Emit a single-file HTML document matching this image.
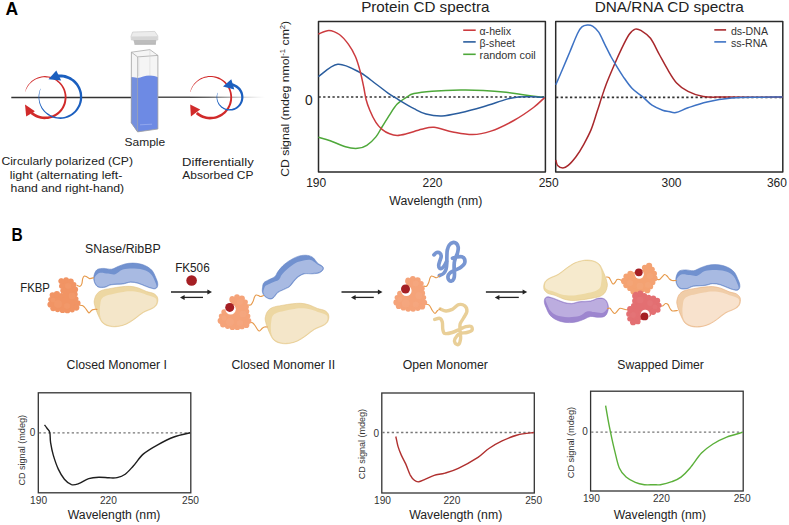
<!DOCTYPE html>
<html><head><meta charset="utf-8"><title>CD spectra figure</title>
<style>
html,body{margin:0;padding:0;background:#fff;}
body{width:789px;height:525px;overflow:hidden;}
svg{display:block;font-family:"Liberation Sans",sans-serif;}
</style></head>
<body>
<svg width="789" height="525" viewBox="0 0 789 525">
<text x="5.6" y="15.3" font-size="17.5" fill="#000" text-anchor="start" font-weight="700">A</text>
<text x="11.5" y="240.6" font-size="17.5" fill="#000" text-anchor="start" font-weight="700" textLength="11.2" lengthAdjust="spacingAndGlyphs">B</text>
<defs><linearGradient id="fade" x1="0" x2="1" y1="0" y2="0"><stop offset="0" stop-color="#333" stop-opacity="1"/><stop offset="0.25" stop-color="#444" stop-opacity="0.9"/><stop offset="1" stop-color="#999" stop-opacity="0"/></linearGradient></defs>
<line x1="11.3" y1="97.5" x2="132" y2="97.5" stroke="#333" stroke-width="1.3"/>
<line x1="158" y1="97.2" x2="190" y2="97.2" stroke="#333" stroke-width="1.3"/>
<rect x="190" y="96.6" width="75" height="1.3" fill="url(#fade)"/>
<path d="M25.1,91.6 L25.6,89.9 L26.2,88.2 L27.1,86.6 L28,85.1 L29.1,83.7 L30.3,82.4 L31.6,81.1 L33.1,80 L34.6,79 L36.2,78.2 L37.8,77.5 L39.5,76.9 L41.3,76.5 L43.1,76.2 L44.9,76.1 L46.7,76.2 L48.5,76.4 L50.3,76.7 L52.1,77.3 L53.8,77.9 L55.4,78.7 L57,79.7 L58.4,80.7 L59.8,81.9 L61.1,83.3 L62.3,84.7 L63.3,86.2 L64.2,87.8 L65,89.5 L65.6,91.2 L66,93 L66.4,94.8 L66.5,96.6 L66.5,98.5 L66.3,100.3 L66,102.2 L65.6,103.9 L64.9,105.7 L64.1,107.4 L63.2,109 L62.2,110.5 L61,112 L59.7,113.3 L58.3,114.5 L56.8,115.6 L55.2,116.5 L53.5,117.4 L51.7,118 L49.9,118.5 L48.1,118.9 L46.2,119.1 L44.4,119.2 L42.5,119 L40.6,118.8 L38.8,118.3 L37,117.7 L35.3,117 L33.6,116.1 L32.1,115.1 L30.6,113.9 L32.4,111.8 L33.7,112.8 L35,113.8 L36.5,114.6 L38,115.2 L39.5,115.8 L41.2,116.2 L42.8,116.5 L44.4,116.6 L46.1,116.6 L47.8,116.5 L49.4,116.2 L51,115.8 L52.6,115.2 L54.1,114.5 L55.5,113.7 L56.9,112.7 L58.2,111.7 L59.4,110.5 L60.5,109.2 L61.5,107.9 L62.3,106.4 L63,104.9 L63.7,103.3 L64.1,101.7 L64.4,100.1 L64.6,98.4 L64.7,96.7 L64.6,95 L64.3,93.3 L63.9,91.7 L63.4,90.1 L62.7,88.5 L61.9,87 L61,85.6 L59.9,84.3 L58.8,83 L57.5,81.9 L56.2,80.8 L54.7,79.9 L53.2,79.1 L51.6,78.5 L50,78 L48.3,77.6 L46.6,77.4 L44.9,77.3 L43.2,77.3 L41.5,77.5 L39.8,77.9 L38.1,78.4 L36.5,79 L35,79.8 L33.5,80.7 L32.1,81.7 L30.8,82.9 L29.6,84.1 L28.5,85.5 L27.5,86.9 L26.7,88.4 L25.9,90 L25.3,91.7Z" fill="#d12a2a"/>
<path d="M25,104.5 L26.2,116.6 L34.9,111.2Z" fill="#d12a2a"/>
<path d="M40.4,88.7 L39.7,90.4 L39.2,92.2 L38.8,94 L38.6,95.9 L38.6,97.7 L38.7,99.6 L39,101.4 L39.4,103.2 L40,105 L40.8,106.7 L41.6,108.4 L42.7,110 L43.9,111.4 L45.2,112.8 L46.6,114 L48.1,115.2 L49.7,116.1 L51.4,117 L53.2,117.7 L55,118.2 L56.8,118.6 L58.7,118.8 L60.6,118.9 L62.5,118.8 L64.4,118.5 L66.3,118 L68.1,117.4 L69.8,116.7 L71.5,115.8 L73.1,114.7 L74.6,113.5 L76,112.2 L77.3,110.8 L78.4,109.2 L79.4,107.6 L80.3,105.9 L81,104.1 L81.6,102.2 L82,100.3 L82.2,98.4 L82.2,96.5 L82.1,94.6 L81.9,92.6 L81.4,90.8 L80.8,88.9 L80,87.1 L79.1,85.4 L78.1,83.8 L76.9,82.3 L75.5,80.8 L74.1,79.5 L72.5,78.4 L70.9,77.3 L69.1,76.4 L67.3,75.7 L65.4,75.1 L63.5,74.7 L61.6,74.5 L59.6,74.4 L57.6,74.5 L58,77.5 L59.7,77.4 L61.4,77.4 L63.1,77.6 L64.7,77.9 L66.4,78.4 L68,79 L69.5,79.7 L71,80.6 L72.4,81.6 L73.7,82.7 L74.9,84 L76,85.3 L77,86.7 L77.8,88.2 L78.5,89.8 L79.1,91.4 L79.5,93.1 L79.8,94.8 L79.9,96.5 L79.9,98.3 L79.8,100 L79.4,101.7 L79,103.4 L78.4,105 L77.6,106.6 L76.7,108.1 L75.7,109.5 L74.6,110.9 L73.4,112.1 L72,113.2 L70.6,114.2 L69,115.1 L67.4,115.8 L65.8,116.4 L64.1,116.9 L62.3,117.2 L60.6,117.3 L58.8,117.3 L57,117.2 L55.3,116.8 L53.6,116.4 L51.9,115.8 L50.3,115 L48.8,114.1 L47.3,113.1 L45.9,112 L44.7,110.7 L43.5,109.3 L42.5,107.9 L41.6,106.3 L40.8,104.7 L40.2,103 L39.7,101.3 L39.4,99.5 L39.2,97.7 L39.2,95.9 L39.4,94.1 L39.7,92.3 L40.1,90.5 L40.7,88.8Z" fill="#1b5fbf"/>
<path d="M48.5,79.3 L56.3,70.5 L61.2,80.5Z" fill="#1b5fbf"/>
<path d="M190.2,91.9 L190.7,90.1 L191.3,88.5 L192.1,86.8 L193.1,85.3 L194.1,83.8 L195.3,82.5 L196.7,81.2 L198.1,80 L199.6,79 L201.2,78.1 L202.9,77.4 L204.6,76.8 L206.4,76.4 L208.2,76.1 L210,75.9 L211.9,76 L213.7,76.2 L215.5,76.5 L217.3,77 L219,77.6 L220.7,78.4 L222.3,79.4 L223.8,80.4 L225.2,81.6 L226.5,83 L227.7,84.4 L228.8,85.9 L229.7,87.5 L230.5,89.2 L231.1,91 L231.6,92.8 L231.9,94.6 L232.1,96.5 L232.1,98.3 L232,100.2 L231.7,102.1 L231.2,103.9 L230.6,105.6 L229.8,107.3 L228.9,109 L227.8,110.5 L226.6,112 L225.3,113.4 L223.9,114.6 L222.4,115.7 L220.7,116.7 L219,117.5 L217.3,118.2 L215.5,118.7 L213.6,119.1 L211.7,119.3 L209.8,119.4 L207.9,119.2 L206,119 L204.2,118.5 L202.4,117.9 L200.6,117.2 L198.9,116.3 L197.3,115.2 L195.8,114.1 L197.7,111.9 L199,113 L200.4,113.9 L201.8,114.8 L203.3,115.4 L204.9,116 L206.5,116.4 L208.2,116.7 L209.9,116.8 L211.6,116.8 L213.2,116.7 L214.9,116.4 L216.5,115.9 L218.1,115.3 L219.6,114.6 L221.1,113.8 L222.5,112.8 L223.8,111.7 L225,110.5 L226.1,109.2 L227.1,107.9 L227.9,106.4 L228.7,104.9 L229.3,103.3 L229.7,101.6 L230.1,99.9 L230.2,98.2 L230.3,96.5 L230.1,94.8 L229.9,93.1 L229.5,91.5 L228.9,89.8 L228.2,88.3 L227.4,86.8 L226.4,85.3 L225.4,84 L224.2,82.7 L222.9,81.6 L221.5,80.6 L220,79.6 L218.5,78.9 L216.9,78.2 L215.2,77.7 L213.5,77.3 L211.8,77.1 L210,77.1 L208.3,77.1 L206.6,77.4 L204.9,77.8 L203.2,78.3 L201.6,79 L200,79.8 L198.5,80.7 L197.1,81.8 L195.8,82.9 L194.6,84.2 L193.5,85.6 L192.6,87.1 L191.7,88.7 L191,90.3 L190.5,92Z" fill="#d12a2a"/>
<path d="M190.2,104.6 L190.9,116.6 L200.2,109.6Z" fill="#d12a2a"/>
<path d="M217.5,92.8 L217.2,93.8 L216.9,94.8 L216.7,95.8 L216.6,96.9 L216.6,98 L216.7,99 L216.8,100.1 L217.1,101.1 L217.4,102.1 L217.9,103.1 L218.3,104 L218.9,105 L219.6,105.8 L220.3,106.6 L221.1,107.4 L221.9,108 L222.8,108.6 L223.8,109.2 L224.7,109.6 L225.8,110 L226.8,110.3 L227.9,110.5 L229,110.6 L230.1,110.6 L231.2,110.6 L232.3,110.4 L233.3,110.2 L234.4,109.9 L235.4,109.4 L236.4,109 L237.3,108.4 L238.2,107.7 L239.1,107 L239.8,106.2 L240.6,105.4 L241.2,104.4 L241.8,103.5 L242.3,102.5 L242.7,101.4 L243,100.4 L243.2,99.3 L243.4,98.2 L243.4,97 L243.4,95.9 L243.2,94.8 L243,93.7 L242.7,92.6 L242.3,91.5 L241.8,90.5 L241.2,89.5 L240.6,88.6 L239.9,87.7 L239.1,86.9 L238.2,86.2 L237.3,85.5 L236.3,84.9 L235.3,84.4 L234.3,83.9 L233.2,83.6 L232,83.3 L231.6,86.1 L232.5,86.3 L233.4,86.5 L234.2,86.8 L235.1,87.2 L235.9,87.7 L236.6,88.2 L237.3,88.8 L238,89.4 L238.6,90.1 L239.2,90.9 L239.7,91.7 L240.1,92.5 L240.5,93.4 L240.8,94.3 L241,95.2 L241.1,96.1 L241.2,97.1 L241.2,98 L241.1,99 L240.9,99.9 L240.7,100.8 L240.4,101.7 L240,102.6 L239.5,103.4 L239,104.2 L238.4,105 L237.8,105.7 L237.1,106.3 L236.3,106.9 L235.5,107.4 L234.7,107.9 L233.8,108.3 L232.9,108.6 L231.9,108.9 L231,109 L230,109.1 L229,109.2 L228.1,109.1 L227.1,108.9 L226.1,108.7 L225.2,108.4 L224.3,108.1 L223.4,107.6 L222.6,107.1 L221.8,106.5 L221.1,105.8 L220.4,105.1 L219.7,104.4 L219.2,103.6 L218.7,102.7 L218.2,101.8 L217.9,100.9 L217.6,99.9 L217.4,98.9 L217.2,97.9 L217.2,96.9 L217.2,95.9 L217.3,94.9 L217.5,93.9 L217.8,92.9Z" fill="#1b5fbf"/>
<path d="M223,86.4 L231.3,79.3 L234.3,89.4Z" fill="#1b5fbf"/>
<path d="M131,36.4 L132.6,32 L154.8,31.4 L157.8,35.8 L157.8,40 L131.4,40Z" fill="#ececec" stroke="#c2c2c2" stroke-width="0.6"/>
<path d="M131.2,36.5 L157.6,36.2 L157.4,40 L131.6,40Z" fill="#d6d6d6"/>
<path d="M133.4,40 L156.3,40 L155.8,44.4 L134.6,44.6Z" fill="#bdbdbd"/>
<line x1="134.6" y1="44.4" x2="155.8" y2="44.2" stroke="#a8a8a8" stroke-width="0.6"/>
<path d="M131.4,52.2 L149.9,49.6 L157.9,55.4 L157.9,129 L137.6,131.9 L131.2,122.8Z" fill="#f5f5f5"/>
<path d="M131.3,77.2 L137.6,77.9 C141,77.8 145,75.6 149.9,75.6 C153,75.6 155.5,76.6 157.9,77.2 L157.9,129 L137.6,131.9 L131.2,122.8Z" fill="#6d8ae4"/>
<path d="M131.3,77.2 L137.6,77.9 L137.6,131.9 L131.2,122.8Z" fill="#7590de"/>
<line x1="140" y1="124.8" x2="152" y2="124.2" stroke="#9fb2f0" stroke-width="0.7"/>
<line x1="138.8" y1="58" x2="138.8" y2="76" stroke="#d8d8d8" stroke-width="0.7"/>
<path d="M131.4,52.2 L149.9,49.6 L157.9,55.4 L137.6,56.9Z" fill="none" stroke="#a0a0a0" stroke-width="0.7"/>
<path d="M131.4,52.2 L131.2,122.8 L137.6,131.9 L157.9,129 L157.9,55.4" fill="none" stroke="#a0a0a0" stroke-width="0.8"/>
<line x1="137.6" y1="56.9" x2="137.6" y2="131.9" stroke="#a8a8a8" stroke-width="0.7"/>
<line x1="149.9" y1="50" x2="149.9" y2="76" stroke="#d0d0d0" stroke-width="0.5"/>
<text x="144.9" y="146.3" font-size="11.5" fill="#222" text-anchor="middle" font-weight="400" textLength="40.6" lengthAdjust="spacingAndGlyphs">Sample</text>
<text x="67.2" y="164.8" font-size="11.5" fill="#222" text-anchor="middle" font-weight="400" textLength="131.6" lengthAdjust="spacingAndGlyphs">Circularly polarized (CP)</text>
<text x="66.1" y="178.6" font-size="11.5" fill="#222" text-anchor="middle" font-weight="400" textLength="112.6" lengthAdjust="spacingAndGlyphs">light (alternating left-</text>
<text x="67.4" y="192.3" font-size="11.5" fill="#222" text-anchor="middle" font-weight="400" textLength="113.6" lengthAdjust="spacingAndGlyphs">hand and right-hand)</text>
<text x="217.9" y="165.6" font-size="11.5" fill="#222" text-anchor="middle" font-weight="400" textLength="71.6" lengthAdjust="spacingAndGlyphs">Differentially</text>
<text x="217.9" y="179.4" font-size="11.5" fill="#222" text-anchor="middle" font-weight="400" textLength="71.2" lengthAdjust="spacingAndGlyphs">Absorbed CP</text>
<rect x="318.5" y="21.5" width="226.9" height="150.4" fill="none" stroke="#2a2a2a" stroke-width="1.5" stroke-linejoin="round"/>
<rect x="555.7" y="21.5" width="227.1" height="150.4" fill="none" stroke="#2a2a2a" stroke-width="1.5" stroke-linejoin="round"/>
<line x1="318.5" y1="97" x2="545" y2="97" stroke="#333" stroke-width="1.7" stroke-dasharray="2.3 2.35"/>
<line x1="556" y1="97.3" x2="782.5" y2="97.3" stroke="#333" stroke-width="1.7" stroke-dasharray="2.3 2.35"/>
<path d="M318.4,137.3 C320.4,137.9 325.7,139.1 330.2,140.7 C334.7,142.3 340.9,145.5 345.5,146.8 C350.1,148.1 354.1,148.6 357.6,148.3 C361.2,148.1 363.8,147.2 366.8,145.3 C369.9,143.4 373.4,140 375.9,136.9 C378.4,133.8 379.7,130.7 382,127 C384.3,123.3 387.1,118.6 389.6,114.8 C392.1,111 394.4,107 397.2,104.1 C400,101.2 403.6,99 406.4,97.3 C409.2,95.5 409.7,94.6 414,93.6 C418.3,92.6 424.2,91.8 432,91.2 C439.8,90.6 451.9,90.1 460.5,90 C469.1,89.9 475.7,90 483.3,90.4 C490.9,90.8 499.8,91.6 506.1,92.3 C512.5,93 515,93.7 521.4,94.6 C527.8,95.5 540.7,97.1 544.6,97.6" fill="none" stroke="#4ea83a" stroke-width="1.5"/>
<path d="M318.4,76.6 C321.6,74.5 330.9,64.9 337.8,64.2 C344.7,63.5 353.6,69.2 360,72.5 C366.4,75.8 371.3,80.6 376,84 C380.7,87.4 384.3,90.5 388,93.1 C391.7,95.7 393.7,96.8 398,99.4 C402.3,102 409.3,106.3 414,108.7 C418.7,111.1 421.3,112.8 426,114 C430.7,115.2 436.2,116.1 442,115.9 C447.8,115.7 453.6,114.3 460.5,112.8 C467.4,111.3 475.7,109 483.3,106.8 C490.9,104.6 500.3,101.1 506.1,99.4 C511.9,97.8 513.2,97.3 518.3,96.9 C523.4,96.5 532.2,96.8 536.6,96.9 C541,97 543.3,97.3 544.6,97.4" fill="none" stroke="#2a5d9e" stroke-width="1.5"/>
<path d="M318.4,34 C320.2,33.4 325.5,30.3 329,30.4 C332.5,30.5 336.1,32.2 339.4,34.5 C342.6,36.8 345.8,40.7 348.5,44.4 C351.2,48.1 353.5,52.2 355.4,56.5 C357.3,60.8 358.5,65.2 359.9,70.3 C361.3,75.4 362.7,82.2 363.7,87 C364.7,91.8 365,95.3 366,99.2 C367,103.1 368.2,106.3 369.8,110.2 C371.4,114.1 373.9,119.2 375.9,122.4 C377.9,125.6 379.7,127.4 382,129.3 C384.3,131.2 387.1,132.8 389.6,133.8 C392.1,134.8 394.4,135.4 397.2,135.4 C400,135.4 402.3,134.8 406.4,133.8 C410.5,132.8 417,130.4 421.6,129.3 C426.2,128.2 428.8,126.9 434,127.3 C439.2,127.7 446.4,130.7 452.8,131.9 C459.2,133.1 466.2,134.7 472.6,134.6 C479,134.5 484,133.4 490.9,131.1 C497.8,128.8 506.7,124.4 513.8,120.5 C520.9,116.6 528.4,111.3 533.5,107.5 C538.6,103.7 542.8,99.2 544.6,97.6" fill="none" stroke="#cc3b3f" stroke-width="1.5"/>
<path d="M555.8,160 C556.1,160.9 556.4,164.1 557.6,165.4 C558.8,166.7 561.1,168 562.9,168 C564.7,168 566.1,167.2 568.2,165.4 C570.4,163.6 573.2,160.4 575.8,157 C578.3,153.6 581,149.4 583.5,144.8 C586,140.2 588.8,135.2 591.1,129.6 C593.4,124 595.4,116.7 597.2,111.3 C599,105.9 600.2,101.8 601.7,97.3 C603.2,92.8 604.3,89.3 606.3,84 C608.3,78.7 611.4,71.5 613.9,65.7 C616.4,59.9 619,54.1 621.5,48.9 C624,43.7 626.8,37.8 629.1,34.5 C631.4,31.2 633.2,29.7 635.2,29.1 C637.2,28.5 638.8,29.2 641.3,30.7 C643.8,32.2 647.5,34.2 650.5,38.3 C653.5,42.3 656.8,49.9 659.6,55 C662.4,60.1 664.4,64 667.2,68.7 C670,73.4 673.1,79.1 676.6,82.9 C680.1,86.7 683.5,89.1 688,91.4 C692.5,93.7 697,95.6 703.3,96.6 C709.6,97.5 712.8,97 726,97.1 C739.2,97.2 773.1,97.1 782.5,97.1" fill="none" stroke="#a8282c" stroke-width="1.5"/>
<path d="M555.8,84.7 C556.8,82.3 559.8,75.8 562.1,70.3 C564.4,64.8 567.2,58.1 569.8,52 C572.3,45.9 575.4,37.9 577.4,33.7 C579.4,29.5 580.2,28.3 581.9,26.9 C583.5,25.4 585.5,25.1 587.3,25 C589.1,24.9 590.7,24.9 592.6,26.1 C594.5,27.3 596.7,29.2 598.7,32.2 C600.7,35.2 602.8,40.4 604.8,44.4 C606.8,48.4 609.1,53.2 610.9,56.5 C612.7,59.8 613.4,60.9 615.4,64.2 C617.4,67.5 620.2,72.2 623,76.3 C625.8,80.3 628.9,85.1 632.2,88.5 C635.5,91.9 639.5,94.1 642.8,96.9 C646.1,99.7 648.7,103 652,105.2 C655.3,107.4 659.8,109.2 662.6,110.2 C665.4,111.2 666.8,111.1 669,111.5 C671.2,111.9 672.8,113.1 676,112.5 C679.2,111.9 682.8,109.6 688,107.8 C693.2,106 699.7,103.5 707,101.9 C714.3,100.3 723.1,98.9 731.9,98.1 C740.7,97.3 751.6,97.4 760,97.2 C768.4,97 778.8,97.1 782.5,97.1" fill="none" stroke="#3d72c4" stroke-width="1.5"/>
<line x1="463.2" y1="30.2" x2="475.7" y2="30.2" stroke="#cc3b3f" stroke-width="1.6"/>
<text x="479.5" y="34.8" font-size="10.6" fill="#333" text-anchor="start" font-weight="400">α-helix</text>
<line x1="463.2" y1="41.9" x2="475.7" y2="41.9" stroke="#2a5d9e" stroke-width="1.6"/>
<text x="479.5" y="46.5" font-size="10.6" fill="#333" text-anchor="start" font-weight="400">β-sheet</text>
<line x1="463.2" y1="54.3" x2="475.7" y2="54.3" stroke="#4ea83a" stroke-width="1.6"/>
<text x="479.5" y="58.9" font-size="10.6" fill="#333" text-anchor="start" font-weight="400" textLength="56.3" lengthAdjust="spacingAndGlyphs">random coil</text>
<line x1="714.3" y1="29.9" x2="726.1" y2="29.9" stroke="#a8282c" stroke-width="1.6"/>
<text x="730.9" y="34.5" font-size="10.6" fill="#333" text-anchor="start" font-weight="400">ds-DNA</text>
<line x1="714.3" y1="41.9" x2="726.1" y2="41.9" stroke="#3d72c4" stroke-width="1.6"/>
<text x="730.9" y="46.5" font-size="10.6" fill="#333" text-anchor="start" font-weight="400">ss-RNA</text>
<text x="425.3" y="12.3" font-size="15" fill="#222" text-anchor="middle" font-weight="400" textLength="128.2" lengthAdjust="spacingAndGlyphs">Protein CD spectra</text>
<text x="669.3" y="12.3" font-size="15" fill="#222" text-anchor="middle" font-weight="400" textLength="149.2" lengthAdjust="spacingAndGlyphs">DNA/RNA CD spectra</text>
<text x="316.2" y="186.8" font-size="12" fill="#222" text-anchor="middle" font-weight="400">190</text>
<text x="432.5" y="186.8" font-size="12" fill="#222" text-anchor="middle" font-weight="400">220</text>
<text x="548.7" y="186.8" font-size="12" fill="#222" text-anchor="middle" font-weight="400">250</text>
<text x="671.5" y="186.8" font-size="12" fill="#222" text-anchor="middle" font-weight="400">300</text>
<text x="776.9" y="186.8" font-size="12" fill="#222" text-anchor="middle" font-weight="400">360</text>
<text x="308.9" y="104.7" font-size="13.8" fill="#222" text-anchor="middle" font-weight="400">0</text>
<text x="435.9" y="204.9" font-size="12" fill="#222" text-anchor="middle" font-weight="400" textLength="93.1" lengthAdjust="spacingAndGlyphs">Wavelength (nm)</text>
<text transform="translate(289.3,176.8) rotate(-90)" font-size="11.2" fill="#222" textLength="156" lengthAdjust="spacingAndGlyphs">CD signal (mdeg nmol<tspan font-size="7" dy="-4">-1</tspan><tspan dy="4"> cm</tspan><tspan font-size="7" dy="-4">2</tspan><tspan dy="4">)</tspan></text>
<g>
<path d="M93.7,278.7 C93.6,276.8 94.1,274.6 94.8,273 C95.5,271.4 96.2,270.1 97.7,269.3 C99.2,268.5 101.7,268.4 104,268.4 C106.3,268.4 109.2,269.5 111.5,269.2 C113.8,268.9 115.8,267.4 118,266.5 C120.2,265.6 122.5,264.6 125,264 C127.5,263.4 130.1,263.1 132.7,263.1 C135.3,263.1 138,263.4 140.5,264 C143,264.6 145.5,265.6 147.5,266.8 C149.5,268 151.2,269.3 152.5,271 C153.8,272.7 154.7,275.1 155.5,277 C156.3,278.9 157.3,280.9 157.6,282.5 C157.9,284.1 157.9,285.4 157.5,286.5 C157.1,287.6 156.2,288.6 155,288.8 C153.8,289.1 152.1,288.4 150.5,288 C148.9,287.6 147.7,287.1 145.6,286.3 C143.5,285.5 140.5,284 138,283.3 C135.5,282.6 132.9,282.1 130.4,282.2 C127.9,282.3 126,283.6 122.8,284 C119.6,284.4 114.4,284.3 111.4,284.8 C108.4,285.3 107.1,286.8 105,287.2 C102.9,287.6 100.6,287.8 99,287.3 C97.4,286.9 96.4,285.9 95.5,284.5 C94.6,283.1 93.8,280.6 93.7,278.7Z" fill="#7191cf" stroke="#6585c6" stroke-width="0.6"/>
<path d="M94.6,279.5 C94.5,278.2 94.5,277.4 95.4,276.3 C96.3,275.2 97.9,273.2 100,272.8 C102.1,272.4 105.5,273.4 108,273.6 C110.5,273.8 112.7,274.9 115.2,274.2 C117.7,273.5 119.6,270.6 122.8,269.6 C126,268.7 130.4,268.4 134.2,268.5 C138,268.6 142.7,269.3 145.6,270.4 C148.5,271.5 150.2,273.1 151.7,274.9 C153.2,276.7 154,279.1 154.8,281 C155.6,282.9 156.6,285 156.6,286.2 C156.6,287.4 155.6,287.8 154.6,288 C153.6,288.2 151.8,287.6 150.3,287.2 C148.8,286.8 147.7,286.3 145.6,285.5 C143.5,284.7 140.5,283.2 138,282.5 C135.5,281.8 132.9,281.3 130.4,281.4 C127.9,281.5 126,282.8 122.8,283.2 C119.6,283.6 114.4,283.5 111.4,284 C108.4,284.5 107.1,286 105,286.4 C102.9,286.8 100.5,286.9 99,286.5 C97.5,286.1 96.6,285 95.9,283.8 C95.2,282.6 94.7,280.8 94.6,279.5Z" fill="#a8bae2"/>
</g>
<g>
<path d="M94.2,301 C94.5,299.3 95.1,296.4 96.3,294.7 C97.5,292.9 99,291.6 101.5,290.5 C104,289.4 107.7,289 111,288.4 C114.3,287.8 118.3,287.1 121.4,286.8 C124.5,286.5 127,286.1 129.8,286.3 C132.6,286.5 135.4,287 138.2,287.9 C141,288.8 144,290.6 146.6,291.5 C149.2,292.4 152.1,292.6 153.9,293.6 C155.7,294.7 157.1,296.1 157.6,297.8 C158.1,299.6 157.8,302.4 157,304.1 C156.2,305.9 155.1,306.9 152.8,308.3 C150.5,309.7 146.4,310.8 143.4,312.5 C140.4,314.2 137.8,316.9 135,318.8 C132.2,320.7 129.7,322.7 126.7,324 C123.7,325.3 120.2,326.2 117.2,326.6 C114.2,327 111.3,326.7 108.9,326.1 C106.5,325.5 104.2,324.3 102.6,322.9 C101,321.5 100.5,319.8 99.4,317.7 C98.4,315.6 97.1,312.5 96.3,310.4 C95.5,308.3 95,306.7 94.7,305.1 C94.4,303.5 93.9,302.7 94.2,301Z" fill="#edd7a2" stroke="#e2c383" stroke-width="0.6"/>
<path d="M100.2,305 C100.5,303 100.6,300.5 101.6,299 C102.6,297.5 104.1,296.6 106,295.8 C107.9,295 110.4,294.6 113,294 C115.6,293.4 118.6,292.8 121.4,292.3 C124.2,291.9 126.9,291.3 130,291.3 C133.1,291.3 136.9,291.7 140,292.4 C143.1,293.1 146.3,294.7 148.7,295.5 C151.1,296.3 153,296.7 154.3,297.4 C155.6,298.1 156.1,298.4 156.4,299.5 C156.7,300.6 156.7,302.6 156,304 C155.3,305.4 154.5,306.3 152.3,307.6 C150.1,308.9 145.9,310.1 143,311.8 C140.1,313.6 137.4,316.2 134.6,318.1 C131.8,320 129.3,322 126.4,323.3 C123.5,324.6 120.1,325.5 117.2,325.8 C114.3,326.1 111.5,325.9 109.2,325.3 C106.9,324.7 104.8,323.6 103.4,322.3 C102,321 101.2,319.3 100.6,317.4 C100,315.5 99.9,313.1 99.8,311 C99.7,308.9 99.9,307 100.2,305Z" fill="#f4e6c9"/>
</g>
<path d="M77.1,285.4 C77.6,285.5 79.3,286.6 80.1,286.3 C80.9,286 81.5,285 81.9,283.7 C82.3,282.4 82.3,279.9 82.7,278.6 C83.1,277.3 83.7,276.3 84.4,276 C85.1,275.7 86.1,276.5 87,276.9 C87.9,277.3 88.5,278.5 89.6,278.6 C90.7,278.7 92.9,277.9 93.6,277.7" fill="none" stroke="#e6994a" stroke-width="1.1" stroke-linecap="round" stroke-linejoin="round"/>
<path d="M79.7,305.1 C80.1,305.2 81.4,305.2 82.3,305.6 C83.2,306 84.1,306.8 84.9,307.7 C85.8,308.6 86.7,310.2 87.4,311.1 C88.1,312 88.4,313 89.1,312.9 C89.8,312.8 90.8,310.9 91.7,310.3 C92.6,309.7 93.4,309.5 94.3,309.4 C95.2,309.2 96.5,309.4 96.9,309.4" fill="none" stroke="#e6994a" stroke-width="1.1" stroke-linecap="round" stroke-linejoin="round"/>
<g>
<path d="M61.3,281.1 C61.9,280.4 63,280.1 64.2,280 C65.4,279.9 67.3,280.3 68.7,280.7 C70,281.2 71.4,281.8 72.3,282.6 C73.3,283.4 73.9,284.6 74.4,285.7 C74.9,286.8 75.2,288.1 75.2,289.4 C75.2,290.8 74.5,292.3 74.5,293.7 C74.6,295.1 74.8,296.5 75.3,297.8 C75.9,299.1 77.3,300.2 77.6,301.6 C77.9,302.9 77.6,304.8 77.1,306.1 C76.6,307.3 75.8,308.4 74.6,309.1 C73.5,309.8 71.6,309.9 70.1,310.1 C68.6,310.3 67.4,310.5 65.7,310.4 C64,310.3 61.7,309.8 59.9,309.6 C58,309.4 56.1,309.9 54.5,309.2 C53,308.5 51.5,307 50.8,305.4 C50.2,303.9 50.4,301.9 50.7,300.1 C51,298.4 51.7,296.2 52.5,295.1 C53.3,294 54.2,293.7 55.4,293.7 C56.5,293.7 58.3,294.8 59.6,295.2 C60.9,295.5 62,295.8 63,295.9 C63.9,296 65.2,296.2 65.4,295.7 C65.6,295.2 64.7,294.1 64.3,292.9 C63.9,291.7 63.2,290.1 62.7,288.7 C62.2,287.3 61.4,285.7 61.1,284.5 C60.9,283.2 60.8,281.9 61.3,281.1Z" fill="#f19464"/>
<circle cx="61.3" cy="281.1" r="2.6" fill="#f19464"/>
<circle cx="66.1" cy="280.1" r="2.9" fill="#f19464"/>
<circle cx="70.7" cy="281.5" r="3.1" fill="#f19464"/>
<circle cx="73.9" cy="284.7" r="2.6" fill="#f19464"/>
<circle cx="75.2" cy="289.4" r="2.9" fill="#f19464"/>
<circle cx="74.6" cy="294.3" r="3.1" fill="#f19464"/>
<circle cx="75.9" cy="298.8" r="2.6" fill="#f19464"/>
<circle cx="77.7" cy="303.1" r="2.9" fill="#f19464"/>
<circle cx="76.3" cy="307.6" r="3.1" fill="#f19464"/>
<circle cx="72.2" cy="309.8" r="2.6" fill="#f19464"/>
<circle cx="67.4" cy="310.4" r="2.9" fill="#f19464"/>
<circle cx="62.6" cy="310.0" r="3.1" fill="#f19464"/>
<circle cx="57.6" cy="309.6" r="2.6" fill="#f19464"/>
<circle cx="53.2" cy="308.3" r="2.9" fill="#f19464"/>
<circle cx="50.5" cy="304.5" r="3.1" fill="#f19464"/>
<circle cx="50.8" cy="299.6" r="2.6" fill="#f19464"/>
<circle cx="52.5" cy="295.1" r="2.9" fill="#f19464"/>
<circle cx="56.9" cy="294.1" r="3.1" fill="#f19464"/>
<circle cx="61.4" cy="295.6" r="2.6" fill="#f19464"/>
<circle cx="65.3" cy="295.0" r="2.9" fill="#f19464"/>
<circle cx="63.4" cy="290.6" r="3.1" fill="#f19464"/>
<circle cx="61.6" cy="286.0" r="2.6" fill="#f19464"/>
<circle cx="61.3" cy="281.1" r="2.9" fill="#f19464"/>
<circle cx="68" cy="286" r="3" fill="#f7ad85" opacity="0.15"/>
<circle cx="72" cy="296" r="3.5" fill="#f7ad85" opacity="0.15"/>
<circle cx="58" cy="304" r="4" fill="#f7ad85" opacity="0.15"/>
<circle cx="67" cy="306" r="3" fill="#f7ad85" opacity="0.15"/>
<circle cx="53" cy="300" r="2.5" fill="#f7ad85" opacity="0.15"/>
</g>
<g>
<path d="M262.5,287.6 C262.7,286 262.8,284 263.9,282.7 C265,281.4 267.1,280.7 268.9,279.7 C270.7,278.7 273.3,278 274.8,276.7 C276.3,275.4 276.5,273.6 277.8,271.8 C279.1,270 280.7,267.8 282.8,265.8 C284.9,263.8 287.9,261.5 290.7,259.9 C293.5,258.2 296.8,256.6 299.6,255.9 C302.4,255.2 305.2,255.1 307.5,255.4 C309.8,255.7 311.8,256.6 313.4,257.9 C315,259.1 315.9,261.5 317.4,262.9 C318.9,264.3 321.4,265.2 322.4,266.3 C323.4,267.4 323.8,268.2 323.3,269.3 C322.8,270.4 321.2,272.1 319.4,272.8 C317.6,273.6 315,273.6 312.5,273.8 C310,274 306.8,273.3 304.5,273.8 C302.2,274.3 300.4,275.4 298.6,276.7 C296.8,278 295.1,280 293.6,281.7 C292.1,283.4 291.4,285.3 289.7,286.6 C288,287.9 285.7,288.6 283.7,289.6 C281.7,290.6 279.4,291.3 277.8,292.6 C276.2,293.9 275.1,296.4 273.8,297.5 C272.5,298.6 271.4,299.2 269.9,299 C268.4,298.8 266.1,297.6 264.9,296.5 C263.7,295.4 262.9,294.1 262.5,292.6 C262.1,291.1 262.3,289.2 262.5,287.6Z" fill="#7191cf" stroke="#6585c6" stroke-width="0.6"/>
<path d="M264,289 C264.4,287.9 264.6,286.7 265.9,285.6 C267.2,284.6 269.8,283.7 271.9,282.7 C274,281.7 277.1,281 278.8,279.7 C280.5,278.4 280.3,276.6 281.8,274.8 C283.3,273 285.4,270.8 287.7,268.8 C290,266.8 293,264.3 295.6,262.9 C298.2,261.5 301,260.9 303.5,260.4 C306,259.9 308.7,259.6 310.5,259.9 C312.3,260.1 313.2,261.1 314.4,261.9 C315.6,262.7 316.4,263.7 317.6,264.5 C318.8,265.3 321,266 321.8,266.8 C322.6,267.6 323,268.4 322.5,269.3 C322,270.2 320.7,271.5 319,272.1 C317.3,272.7 314.9,272.9 312.5,273.1 C310.1,273.3 306.9,272.6 304.5,273.1 C302.1,273.6 300.1,274.7 298.2,276 C296.3,277.3 294.6,279.4 293.1,281 C291.6,282.6 290.8,284.6 289.2,285.9 C287.6,287.2 285.4,287.9 283.4,288.9 C281.4,289.9 279.1,290.6 277.4,291.9 C275.7,293.2 274.6,295.7 273.4,296.8 C272.1,297.9 271.2,298.5 269.9,298.3 C268.5,298.1 266.4,296.9 265.3,295.9 C264.2,294.9 263.6,293.6 263.4,292.5 C263.2,291.4 263.6,290.1 264,289Z" fill="#a8bae2"/>
</g>
<g transform="translate(171,17)">
<path d="M94.2,301 C94.5,299.3 95.1,296.4 96.3,294.7 C97.5,292.9 99,291.6 101.5,290.5 C104,289.4 107.7,289 111,288.4 C114.3,287.8 118.3,287.1 121.4,286.8 C124.5,286.5 127,286.1 129.8,286.3 C132.6,286.5 135.4,287 138.2,287.9 C141,288.8 144,290.6 146.6,291.5 C149.2,292.4 152.1,292.6 153.9,293.6 C155.7,294.7 157.1,296.1 157.6,297.8 C158.1,299.6 157.8,302.4 157,304.1 C156.2,305.9 155.1,306.9 152.8,308.3 C150.5,309.7 146.4,310.8 143.4,312.5 C140.4,314.2 137.8,316.9 135,318.8 C132.2,320.7 129.7,322.7 126.7,324 C123.7,325.3 120.2,326.2 117.2,326.6 C114.2,327 111.3,326.7 108.9,326.1 C106.5,325.5 104.2,324.3 102.6,322.9 C101,321.5 100.5,319.8 99.4,317.7 C98.4,315.6 97.1,312.5 96.3,310.4 C95.5,308.3 95,306.7 94.7,305.1 C94.4,303.5 93.9,302.7 94.2,301Z" fill="#edd7a2" stroke="#e2c383" stroke-width="0.6"/>
<path d="M100.2,305 C100.5,303 100.6,300.5 101.6,299 C102.6,297.5 104.1,296.6 106,295.8 C107.9,295 110.4,294.6 113,294 C115.6,293.4 118.6,292.8 121.4,292.3 C124.2,291.9 126.9,291.3 130,291.3 C133.1,291.3 136.9,291.7 140,292.4 C143.1,293.1 146.3,294.7 148.7,295.5 C151.1,296.3 153,296.7 154.3,297.4 C155.6,298.1 156.1,298.4 156.4,299.5 C156.7,300.6 156.7,302.6 156,304 C155.3,305.4 154.5,306.3 152.3,307.6 C150.1,308.9 145.9,310.1 143,311.8 C140.1,313.6 137.4,316.2 134.6,318.1 C131.8,320 129.3,322 126.4,323.3 C123.5,324.6 120.1,325.5 117.2,325.8 C114.3,326.1 111.5,325.9 109.2,325.3 C106.9,324.7 104.8,323.6 103.4,322.3 C102,321 101.2,319.3 100.6,317.4 C100,315.5 99.9,313.1 99.8,311 C99.7,308.9 99.9,307 100.2,305Z" fill="#f4e6c9"/>
</g>
<path d="M248.2,305 C248.7,305 250.2,305.4 251,304.8 C251.8,304.2 252.4,302.8 253,301.5 C253.6,300.2 254,298.1 254.5,297 C255,295.9 255.3,295.2 256,295 C256.7,294.8 257.8,295.2 258.5,295.5 C259.2,295.8 259.7,296.5 260.5,296.5 C261.3,296.5 263,295.7 263.5,295.5" fill="none" stroke="#e6994a" stroke-width="1.1" stroke-linecap="round" stroke-linejoin="round"/>
<path d="M250,322.5 C250.4,322.6 251.7,322.3 252.5,322.8 C253.3,323.3 254.2,324.4 255,325.5 C255.8,326.6 256.8,328.6 257.5,329.5 C258.2,330.4 258.8,331.2 259.5,331 C260.2,330.8 261.2,329.2 262,328.5 C262.8,327.8 263.6,327.2 264.5,327 C265.4,326.8 266.8,327 267.2,327" fill="none" stroke="#e6994a" stroke-width="1.1" stroke-linecap="round" stroke-linejoin="round"/>
<g>
<path d="M232.2,298.5 C232.8,297.6 234.6,297.3 235.9,297.2 C237.2,297.1 238.9,297.5 240.3,298 C241.6,298.5 243,299.3 243.9,300.2 C244.8,301.1 245.3,301.9 245.7,303.2 C246,304.4 246,306.1 246.1,307.7 C246.2,309.3 246,311.1 246.3,312.6 C246.6,314.2 247.8,315.5 248.1,317 C248.5,318.5 248.7,320.1 248.4,321.5 C248,322.9 247.1,324.3 245.9,325.2 C244.6,326.1 242.8,326.6 241,327 C239.2,327.3 237.1,327.3 235.1,327.2 C233.2,327.1 231.1,326.9 229.3,326.6 C227.4,326.3 225.3,326 224,325.3 C222.6,324.5 221.5,323.4 221,322.3 C220.5,321.2 220.6,319.9 220.8,318.6 C221,317.2 221.5,315.2 222.2,314.1 C222.9,312.9 224.1,311.9 225.2,311.6 C226.3,311.4 227.7,312.1 228.9,312.3 C230.1,312.6 231.3,312.9 232.3,313 C233.3,313 234.6,313.1 235,312.7 C235.4,312.3 235,311.6 234.7,310.6 C234.5,309.5 233.9,307.8 233.5,306.4 C233.1,305 232.6,303.6 232.4,302.2 C232.1,300.9 231.6,299.3 232.2,298.5Z" fill="#f5a379"/>
<circle cx="232.2" cy="298.5" r="2.6" fill="#f5a379"/>
<circle cx="237.0" cy="297.2" r="2.9" fill="#f5a379"/>
<circle cx="241.8" cy="298.7" r="3.1" fill="#f5a379"/>
<circle cx="245.3" cy="302.0" r="2.6" fill="#f5a379"/>
<circle cx="246.0" cy="306.7" r="2.9" fill="#f5a379"/>
<circle cx="246.2" cy="311.6" r="3.1" fill="#f5a379"/>
<circle cx="247.8" cy="316.0" r="2.6" fill="#f5a379"/>
<circle cx="248.5" cy="321.0" r="2.9" fill="#f5a379"/>
<circle cx="246.3" cy="324.9" r="3.1" fill="#f5a379"/>
<circle cx="242.0" cy="326.7" r="2.6" fill="#f5a379"/>
<circle cx="237.3" cy="327.2" r="2.9" fill="#f5a379"/>
<circle cx="232.4" cy="327.0" r="3.1" fill="#f5a379"/>
<circle cx="227.6" cy="326.3" r="2.6" fill="#f5a379"/>
<circle cx="223.0" cy="324.6" r="2.9" fill="#f5a379"/>
<circle cx="220.7" cy="320.8" r="3.1" fill="#f5a379"/>
<circle cx="221.4" cy="316.0" r="2.6" fill="#f5a379"/>
<circle cx="224.2" cy="312.1" r="2.9" fill="#f5a379"/>
<circle cx="228.9" cy="312.3" r="3.1" fill="#f5a379"/>
<circle cx="233.6" cy="313.0" r="2.6" fill="#f5a379"/>
<circle cx="234.5" cy="309.7" r="2.9" fill="#f5a379"/>
<circle cx="233.1" cy="304.8" r="3.1" fill="#f5a379"/>
<circle cx="232.0" cy="299.9" r="2.6" fill="#f5a379"/>
<circle cx="240" cy="302" r="3" fill="#f9bb98" opacity="0.15"/>
<circle cx="243" cy="314" r="3.5" fill="#f9bb98" opacity="0.15"/>
<circle cx="230" cy="322" r="4" fill="#f9bb98" opacity="0.15"/>
<circle cx="240" cy="323" r="3" fill="#f9bb98" opacity="0.15"/>
<circle cx="224" cy="318" r="2.5" fill="#f9bb98" opacity="0.15"/>
</g>
<circle cx="230.6" cy="309.2" r="5.2" fill="#fff"/>
<circle cx="229.7" cy="307.4" r="4.5" fill="#a51f24"/>
<text x="192.4" y="271.5" font-size="12" fill="#222" text-anchor="middle" font-weight="400" textLength="34.5" lengthAdjust="spacingAndGlyphs">FK506</text>
<circle cx="191.6" cy="280.5" r="5.3" fill="#a51f24"/>
<line x1="171" y1="292" x2="209" y2="292" stroke="#222" stroke-width="1.3"/>
<path d="M212,292 L207.4,289.5 L207.4,294.5Z" fill="#222"/>
<line x1="203" y1="297.4" x2="183" y2="297.4" stroke="#222" stroke-width="1.3"/>
<path d="M180,297.4 L184.6,294.9 L184.6,299.9Z" fill="#222"/>
<line x1="341.5" y1="292" x2="379.5" y2="292" stroke="#222" stroke-width="1.3"/>
<path d="M382.5,292 L377.9,289.5 L377.9,294.5Z" fill="#222"/>
<line x1="373.8" y1="297.4" x2="354" y2="297.4" stroke="#222" stroke-width="1.3"/>
<path d="M351,297.4 L355.6,294.9 L355.6,299.9Z" fill="#222"/>
<line x1="485.9" y1="292" x2="524.2" y2="292" stroke="#222" stroke-width="1.3"/>
<path d="M527.2,292 L522.6,289.5 L522.6,294.5Z" fill="#222"/>
<line x1="518.8" y1="297.4" x2="497.8" y2="297.4" stroke="#222" stroke-width="1.3"/>
<path d="M494.8,297.4 L499.4,294.9 L499.4,299.9Z" fill="#222"/>
<path d="M439.4,275.5 C440.1,275.2 442.4,274.5 443.5,273.5 C444.6,272.5 445.4,271.2 446,269.5 C446.6,267.8 446.7,265.2 446.8,263 C446.9,260.8 446.8,258.2 446.9,256 C447,253.8 446.9,251.8 447.3,250 C447.7,248.2 448.4,246.2 449.3,245 C450.2,243.8 451.5,242.8 452.7,242.6 C453.9,242.3 455.5,242.7 456.4,243.5 C457.3,244.3 458,245.8 458.2,247.3 C458.4,248.8 458,250.9 457.6,252.6 C457.2,254.3 456.2,255.8 455.6,257.5 C455.1,259.1 454.6,260.7 454.3,262.5 C454.1,264.3 454.1,266.3 454.1,268.2 C454.1,270.1 454.5,272 454.5,273.7 C454.5,275.4 454.4,277.3 453.9,278.5 C453.4,279.7 452.5,280.8 451.6,281 C450.8,281.2 449.4,280.8 448.8,280 C448.2,279.2 447.8,277.6 448,276.4 C448.2,275.2 449.1,273.8 450.3,272.7 C451.5,271.6 453.6,270.9 455.4,270 C457.2,269.1 459.4,268.4 460.9,267.3 C462.4,266.2 463.9,264.9 464.5,263.5 C465.1,262.1 464.9,260.1 464.5,259 C464.1,257.9 463,257.2 461.8,256.8 C460.6,256.4 458.9,256.6 457.3,256.8 C455.8,257.1 453.3,258.1 452.5,258.3" fill="none" stroke="#7896d2" stroke-width="3.7" stroke-linecap="round" stroke-linejoin="round"/>
<path d="M433.9,254.9 C434.4,254.5 435.7,252.9 436.7,252.6 C437.7,252.3 439.1,252.5 439.9,253.2 C440.6,253.8 441.2,255.2 441.2,256.5 C441.2,257.8 440.2,259.5 439.8,261 C439.4,262.5 438.7,264.2 438.7,265.4 C438.7,266.6 439,267.8 439.6,268.2 C440.2,268.6 441.5,268.5 442.3,268 C443.1,267.5 443.9,266.4 444.6,265.3 C445.3,264.2 446.2,262.1 446.5,261.5" fill="none" stroke="#7896d2" stroke-width="3.7" stroke-linecap="round" stroke-linejoin="round"/>
<path d="M440.2,308.9 C441.1,309.2 443.9,310.9 445.9,311 C447.9,311.1 450.1,310.4 452.2,309.4 C454.3,308.3 456.4,305.3 458.5,304.7 C460.6,304.1 463.4,304.7 464.8,305.8 C466.2,306.9 467.1,309.5 466.9,311.5 C466.7,313.5 464.8,315.7 463.7,317.8 C462.6,319.9 460.7,321.8 460.1,324.1 C459.5,326.4 460,329 460.1,331.4 C460.2,333.8 460.9,336.5 460.6,338.7 C460.3,340.9 459.4,343.8 458.5,344.5 C457.6,345.2 455.6,343.9 455,342.9 C454.4,341.9 454.2,340.3 455,338.7 C455.8,337.1 457.6,334.5 459.6,333.5 C461.6,332.5 464.8,333.1 466.9,332.5 C469,331.9 471.3,331.2 472,330.2 C472.7,329.2 472.1,327 471.1,326.4 C470.1,325.8 467.7,326.2 465.8,326.7 C463.9,327.2 461.9,328.3 459.6,329.3 C457.3,330.3 454.6,331.8 452.2,332.5 C449.8,333.2 446.5,334 444.9,333.5 C443.3,333 443.2,331.2 442.8,329.3 C442.4,327.4 442.8,323.8 442.3,322 C441.8,320.2 441,318.7 439.7,318.3 C438.4,317.9 435.5,319.2 434.6,319.4" fill="none" stroke="#e9cf98" stroke-width="3.4" stroke-linecap="round" stroke-linejoin="round"/>
<path d="M423.5,286 C424,286.1 425.7,286.8 426.5,286.3 C427.3,285.8 427.9,284.4 428.5,283 C429.1,281.6 429.5,279.2 430,278 C430.5,276.8 430.8,276.2 431.5,276 C432.2,275.8 433.2,276.5 434,276.8 C434.8,277.1 435.6,278 436.5,277.8 C437.4,277.6 438.9,275.9 439.4,275.5" fill="none" stroke="#e6994a" stroke-width="1.1" stroke-linecap="round" stroke-linejoin="round"/>
<path d="M425,304.2 C425.7,304.4 428,304.1 429.2,305.2 C430.4,306.2 431.3,309.1 432.3,310.5 C433.3,311.9 434.1,313.4 435,313.4 C435.9,313.4 436.7,311.2 437.6,310.5 C438.5,309.8 439.8,309.2 440.2,308.9" fill="none" stroke="#e6994a" stroke-width="1.1" stroke-linecap="round" stroke-linejoin="round"/>
<g transform="translate(175.8,-18.4)">
<path d="M232.2,298.5 C232.8,297.6 234.6,297.3 235.9,297.2 C237.2,297.1 238.9,297.5 240.3,298 C241.6,298.5 243,299.3 243.9,300.2 C244.8,301.1 245.3,301.9 245.7,303.2 C246,304.4 246,306.1 246.1,307.7 C246.2,309.3 246,311.1 246.3,312.6 C246.6,314.2 247.8,315.5 248.1,317 C248.5,318.5 248.7,320.1 248.4,321.5 C248,322.9 247.1,324.3 245.9,325.2 C244.6,326.1 242.8,326.6 241,327 C239.2,327.3 237.1,327.3 235.1,327.2 C233.2,327.1 231.1,326.9 229.3,326.6 C227.4,326.3 225.3,326 224,325.3 C222.6,324.5 221.5,323.4 221,322.3 C220.5,321.2 220.6,319.9 220.8,318.6 C221,317.2 221.5,315.2 222.2,314.1 C222.9,312.9 224.1,311.9 225.2,311.6 C226.3,311.4 227.7,312.1 228.9,312.3 C230.1,312.6 231.3,312.9 232.3,313 C233.3,313 234.6,313.1 235,312.7 C235.4,312.3 235,311.6 234.7,310.6 C234.5,309.5 233.9,307.8 233.5,306.4 C233.1,305 232.6,303.6 232.4,302.2 C232.1,300.9 231.6,299.3 232.2,298.5Z" fill="#f5a379"/>
<circle cx="232.2" cy="298.5" r="2.6" fill="#f5a379"/>
<circle cx="237.0" cy="297.2" r="2.9" fill="#f5a379"/>
<circle cx="241.8" cy="298.7" r="3.1" fill="#f5a379"/>
<circle cx="245.3" cy="302.0" r="2.6" fill="#f5a379"/>
<circle cx="246.0" cy="306.7" r="2.9" fill="#f5a379"/>
<circle cx="246.2" cy="311.6" r="3.1" fill="#f5a379"/>
<circle cx="247.8" cy="316.0" r="2.6" fill="#f5a379"/>
<circle cx="248.5" cy="321.0" r="2.9" fill="#f5a379"/>
<circle cx="246.3" cy="324.9" r="3.1" fill="#f5a379"/>
<circle cx="242.0" cy="326.7" r="2.6" fill="#f5a379"/>
<circle cx="237.3" cy="327.2" r="2.9" fill="#f5a379"/>
<circle cx="232.4" cy="327.0" r="3.1" fill="#f5a379"/>
<circle cx="227.6" cy="326.3" r="2.6" fill="#f5a379"/>
<circle cx="223.0" cy="324.6" r="2.9" fill="#f5a379"/>
<circle cx="220.7" cy="320.8" r="3.1" fill="#f5a379"/>
<circle cx="221.4" cy="316.0" r="2.6" fill="#f5a379"/>
<circle cx="224.2" cy="312.1" r="2.9" fill="#f5a379"/>
<circle cx="228.9" cy="312.3" r="3.1" fill="#f5a379"/>
<circle cx="233.6" cy="313.0" r="2.6" fill="#f5a379"/>
<circle cx="234.5" cy="309.7" r="2.9" fill="#f5a379"/>
<circle cx="233.1" cy="304.8" r="3.1" fill="#f5a379"/>
<circle cx="232.0" cy="299.9" r="2.6" fill="#f5a379"/>
<circle cx="240" cy="302" r="3" fill="#f9bb98" opacity="0.15"/>
<circle cx="243" cy="314" r="3.5" fill="#f9bb98" opacity="0.15"/>
<circle cx="230" cy="322" r="4" fill="#f9bb98" opacity="0.15"/>
<circle cx="240" cy="323" r="3" fill="#f9bb98" opacity="0.15"/>
<circle cx="224" cy="318" r="2.5" fill="#f9bb98" opacity="0.15"/>
</g>
<circle cx="406.4" cy="290.8" r="5.2" fill="#fff"/>
<circle cx="405.5" cy="289" r="4.5" fill="#a51f24"/>
<g transform="translate(575.65,280.4) rotate(180) translate(-125.9,-306.45)">
<path d="M94.2,301 C94.5,299.3 95.1,296.4 96.3,294.7 C97.5,292.9 99,291.6 101.5,290.5 C104,289.4 107.7,289 111,288.4 C114.3,287.8 118.3,287.1 121.4,286.8 C124.5,286.5 127,286.1 129.8,286.3 C132.6,286.5 135.4,287 138.2,287.9 C141,288.8 144,290.6 146.6,291.5 C149.2,292.4 152.1,292.6 153.9,293.6 C155.7,294.7 157.1,296.1 157.6,297.8 C158.1,299.6 157.8,302.4 157,304.1 C156.2,305.9 155.1,306.9 152.8,308.3 C150.5,309.7 146.4,310.8 143.4,312.5 C140.4,314.2 137.8,316.9 135,318.8 C132.2,320.7 129.7,322.7 126.7,324 C123.7,325.3 120.2,326.2 117.2,326.6 C114.2,327 111.3,326.7 108.9,326.1 C106.5,325.5 104.2,324.3 102.6,322.9 C101,321.5 100.5,319.8 99.4,317.7 C98.4,315.6 97.1,312.5 96.3,310.4 C95.5,308.3 95,306.7 94.7,305.1 C94.4,303.5 93.9,302.7 94.2,301Z" fill="#edd9a3" stroke="#e3c583" stroke-width="0.6"/>
<path d="M100.2,305 C100.5,303 100.6,300.5 101.6,299 C102.6,297.5 104.1,296.6 106,295.8 C107.9,295 110.4,294.6 113,294 C115.6,293.4 118.6,292.8 121.4,292.3 C124.2,291.9 126.9,291.3 130,291.3 C133.1,291.3 136.9,291.7 140,292.4 C143.1,293.1 146.3,294.7 148.7,295.5 C151.1,296.3 153,296.7 154.3,297.4 C155.6,298.1 156.1,298.4 156.4,299.5 C156.7,300.6 156.7,302.6 156,304 C155.3,305.4 154.5,306.3 152.3,307.6 C150.1,308.9 145.9,310.1 143,311.8 C140.1,313.6 137.4,316.2 134.6,318.1 C131.8,320 129.3,322 126.4,323.3 C123.5,324.6 120.1,325.5 117.2,325.8 C114.3,326.1 111.5,325.9 109.2,325.3 C106.9,324.7 104.8,323.6 103.4,322.3 C102,321 101.2,319.3 100.6,317.4 C100,315.5 99.9,313.1 99.8,311 C99.7,308.9 99.9,307 100.2,305Z" fill="#f6eacd"/>
</g>
<g transform="translate(576.35,309.85) rotate(180) translate(-125.75,-275.85)">
<path d="M93.7,278.7 C93.6,276.8 94.1,274.6 94.8,273 C95.5,271.4 96.2,270.1 97.7,269.3 C99.2,268.5 101.7,268.4 104,268.4 C106.3,268.4 109.2,269.5 111.5,269.2 C113.8,268.9 115.8,267.4 118,266.5 C120.2,265.6 122.5,264.6 125,264 C127.5,263.4 130.1,263.1 132.7,263.1 C135.3,263.1 138,263.4 140.5,264 C143,264.6 145.5,265.6 147.5,266.8 C149.5,268 151.2,269.3 152.5,271 C153.8,272.7 154.7,275.1 155.5,277 C156.3,278.9 157.3,280.9 157.6,282.5 C157.9,284.1 157.9,285.4 157.5,286.5 C157.1,287.6 156.2,288.6 155,288.8 C153.8,289.1 152.1,288.4 150.5,288 C148.9,287.6 147.7,287.1 145.6,286.3 C143.5,285.5 140.5,284 138,283.3 C135.5,282.6 132.9,282.1 130.4,282.2 C127.9,282.3 126,283.6 122.8,284 C119.6,284.4 114.4,284.3 111.4,284.8 C108.4,285.3 107.1,286.8 105,287.2 C102.9,287.6 100.6,287.8 99,287.3 C97.4,286.9 96.4,285.9 95.5,284.5 C94.6,283.1 93.8,280.6 93.7,278.7Z" fill="#9d86cf" stroke="#8f78c6" stroke-width="0.6"/>
<path d="M94.6,279.5 C94.5,278.2 94.5,277.4 95.4,276.3 C96.3,275.2 97.9,273.2 100,272.8 C102.1,272.4 105.5,273.4 108,273.6 C110.5,273.8 112.7,274.9 115.2,274.2 C117.7,273.5 119.6,270.6 122.8,269.6 C126,268.7 130.4,268.4 134.2,268.5 C138,268.6 142.7,269.3 145.6,270.4 C148.5,271.5 150.2,273.1 151.7,274.9 C153.2,276.7 154,279.1 154.8,281 C155.6,282.9 156.6,285 156.6,286.2 C156.6,287.4 155.6,287.8 154.6,288 C153.6,288.2 151.8,287.6 150.3,287.2 C148.8,286.8 147.7,286.3 145.6,285.5 C143.5,284.7 140.5,283.2 138,282.5 C135.5,281.8 132.9,281.3 130.4,281.4 C127.9,281.5 126,282.8 122.8,283.2 C119.6,283.6 114.4,283.5 111.4,284 C108.4,284.5 107.1,286 105,286.4 C102.9,286.8 100.5,286.9 99,286.5 C97.5,286.1 96.6,285 95.9,283.8 C95.2,282.6 94.7,280.8 94.6,279.5Z" fill="#bcaddf"/>
</g>
<g transform="translate(582.1,1.5)">
<path d="M93.7,278.7 C93.6,276.8 94.1,274.6 94.8,273 C95.5,271.4 96.2,270.1 97.7,269.3 C99.2,268.5 101.7,268.4 104,268.4 C106.3,268.4 109.2,269.5 111.5,269.2 C113.8,268.9 115.8,267.4 118,266.5 C120.2,265.6 122.5,264.6 125,264 C127.5,263.4 130.1,263.1 132.7,263.1 C135.3,263.1 138,263.4 140.5,264 C143,264.6 145.5,265.6 147.5,266.8 C149.5,268 151.2,269.3 152.5,271 C153.8,272.7 154.7,275.1 155.5,277 C156.3,278.9 157.3,280.9 157.6,282.5 C157.9,284.1 157.9,285.4 157.5,286.5 C157.1,287.6 156.2,288.6 155,288.8 C153.8,289.1 152.1,288.4 150.5,288 C148.9,287.6 147.7,287.1 145.6,286.3 C143.5,285.5 140.5,284 138,283.3 C135.5,282.6 132.9,282.1 130.4,282.2 C127.9,282.3 126,283.6 122.8,284 C119.6,284.4 114.4,284.3 111.4,284.8 C108.4,285.3 107.1,286.8 105,287.2 C102.9,287.6 100.6,287.8 99,287.3 C97.4,286.9 96.4,285.9 95.5,284.5 C94.6,283.1 93.8,280.6 93.7,278.7Z" fill="#7191cf" stroke="#6585c6" stroke-width="0.6"/>
<path d="M94.6,279.5 C94.5,278.2 94.5,277.4 95.4,276.3 C96.3,275.2 97.9,273.2 100,272.8 C102.1,272.4 105.5,273.4 108,273.6 C110.5,273.8 112.7,274.9 115.2,274.2 C117.7,273.5 119.6,270.6 122.8,269.6 C126,268.7 130.4,268.4 134.2,268.5 C138,268.6 142.7,269.3 145.6,270.4 C148.5,271.5 150.2,273.1 151.7,274.9 C153.2,276.7 154,279.1 154.8,281 C155.6,282.9 156.6,285 156.6,286.2 C156.6,287.4 155.6,287.8 154.6,288 C153.6,288.2 151.8,287.6 150.3,287.2 C148.8,286.8 147.7,286.3 145.6,285.5 C143.5,284.7 140.5,283.2 138,282.5 C135.5,281.8 132.9,281.3 130.4,281.4 C127.9,281.5 126,282.8 122.8,283.2 C119.6,283.6 114.4,283.5 111.4,284 C108.4,284.5 107.1,286 105,286.4 C102.9,286.8 100.5,286.9 99,286.5 C97.5,286.1 96.6,285 95.9,283.8 C95.2,282.6 94.7,280.8 94.6,279.5Z" fill="#a8bae2"/>
</g>
<g transform="translate(582.6,0.3)">
<path d="M94.2,301 C94.5,299.3 95.1,296.4 96.3,294.7 C97.5,292.9 99,291.6 101.5,290.5 C104,289.4 107.7,289 111,288.4 C114.3,287.8 118.3,287.1 121.4,286.8 C124.5,286.5 127,286.1 129.8,286.3 C132.6,286.5 135.4,287 138.2,287.9 C141,288.8 144,290.6 146.6,291.5 C149.2,292.4 152.1,292.6 153.9,293.6 C155.7,294.7 157.1,296.1 157.6,297.8 C158.1,299.6 157.8,302.4 157,304.1 C156.2,305.9 155.1,306.9 152.8,308.3 C150.5,309.7 146.4,310.8 143.4,312.5 C140.4,314.2 137.8,316.9 135,318.8 C132.2,320.7 129.7,322.7 126.7,324 C123.7,325.3 120.2,326.2 117.2,326.6 C114.2,327 111.3,326.7 108.9,326.1 C106.5,325.5 104.2,324.3 102.6,322.9 C101,321.5 100.5,319.8 99.4,317.7 C98.4,315.6 97.1,312.5 96.3,310.4 C95.5,308.3 95,306.7 94.7,305.1 C94.4,303.5 93.9,302.7 94.2,301Z" fill="#f0cda8" stroke="#e8ac7a" stroke-width="0.6"/>
<path d="M100.2,305 C100.5,303 100.6,300.5 101.6,299 C102.6,297.5 104.1,296.6 106,295.8 C107.9,295 110.4,294.6 113,294 C115.6,293.4 118.6,292.8 121.4,292.3 C124.2,291.9 126.9,291.3 130,291.3 C133.1,291.3 136.9,291.7 140,292.4 C143.1,293.1 146.3,294.7 148.7,295.5 C151.1,296.3 153,296.7 154.3,297.4 C155.6,298.1 156.1,298.4 156.4,299.5 C156.7,300.6 156.7,302.6 156,304 C155.3,305.4 154.5,306.3 152.3,307.6 C150.1,308.9 145.9,310.1 143,311.8 C140.1,313.6 137.4,316.2 134.6,318.1 C131.8,320 129.3,322 126.4,323.3 C123.5,324.6 120.1,325.5 117.2,325.8 C114.3,326.1 111.5,325.9 109.2,325.3 C106.9,324.7 104.8,323.6 103.4,322.3 C102,321 101.2,319.3 100.6,317.4 C100,315.5 99.9,313.1 99.8,311 C99.7,308.9 99.9,307 100.2,305Z" fill="#f8e2cd"/>
</g>
<path d="M606.5,277 C606.9,277.1 608.2,276.8 609,277.5 C609.8,278.2 610.3,279.9 611,281 C611.7,282.1 612.3,283.8 613,284 C613.7,284.2 614.3,283.2 615,282.5 C615.7,281.8 616.2,280 617,279.5 C617.8,279 618.6,279.2 619.5,279.5 C620.4,279.8 621.8,280.8 622.3,281" fill="none" stroke="#e6994a" stroke-width="1.1" stroke-linecap="round" stroke-linejoin="round"/>
<path d="M607.5,308.6 C607.9,308.5 609.2,307.8 610,308.2 C610.8,308.6 611.2,310.1 612,311 C612.8,311.9 613.7,313.4 614.5,313.5 C615.3,313.6 616.2,312.3 617,311.5 C617.8,310.7 618.7,309 619.5,308.5 C620.3,308 621.1,308.3 622,308.5 C622.9,308.7 624,309.3 625,309.5 C626,309.7 627.5,309.8 628,309.8" fill="none" stroke="#e6994a" stroke-width="1.1" stroke-linecap="round" stroke-linejoin="round"/>
<path d="M656.7,279.3 C657.2,279.3 658.6,279.9 659.5,279.5 C660.4,279.1 661.2,277.8 662,277 C662.8,276.2 663.7,274.7 664.5,274.5 C665.3,274.3 666.2,275.2 667,276 C667.8,276.8 668.7,278.2 669.5,279 C670.3,279.8 670.9,280.2 672,280.5 C673.1,280.8 675.3,280.5 676,280.5" fill="none" stroke="#e6994a" stroke-width="1.1" stroke-linecap="round" stroke-linejoin="round"/>
<path d="M660.5,306.2 C660.9,306.1 662.2,306.2 663,305.8 C663.8,305.4 664.7,303.7 665.5,303.5 C666.3,303.3 667.2,303.7 668,304.5 C668.8,305.3 669.2,307.4 670,308.5 C670.8,309.6 671.3,310.7 672.5,311 C673.7,311.3 676.6,310.6 677.4,310.5" fill="none" stroke="#e6994a" stroke-width="1.1" stroke-linecap="round" stroke-linejoin="round"/>
<g>
<path d="M624.1,280.6 C624.3,279.3 625.4,277.3 626.6,276.1 C627.8,274.9 629.8,273.8 631.4,273.6 C633,273.3 635,273.8 636.2,274.6 C637.4,275.4 637.7,277.6 638.5,278.2 C639.3,278.8 640.1,279.3 640.9,278.4 C641.7,277.4 642.5,274.3 643.2,272.5 C643.9,270.6 644.2,268.4 645.1,267.3 C646,266.2 647.6,265.7 648.6,265.8 C649.7,266 650.6,267.1 651.4,268.1 C652.3,269.2 653.1,270.6 653.6,272.1 C654.2,273.7 654.7,275.6 654.6,277.2 C654.6,278.8 653.9,280.4 653.3,281.7 C652.7,283 651.6,283.8 650.9,284.9 C650.3,286 650.1,287.4 649.4,288.3 C648.7,289.2 647.9,290.1 646.7,290.4 C645.5,290.7 643.6,290.3 642.3,290.1 C640.9,290 639.8,289.3 638.6,289.5 C637.3,289.8 635.8,291.7 634.5,291.6 C633.3,291.6 632.3,290.3 631.1,289.5 C630,288.7 628.7,287.7 627.7,286.8 C626.8,285.9 625.9,285.1 625.3,284 C624.7,283 623.9,281.9 624.1,280.6Z" fill="#f4a272"/>
<circle cx="624.1" cy="280.6" r="2.6" fill="#f4a272"/>
<circle cx="626.3" cy="276.5" r="2.9" fill="#f4a272"/>
<circle cx="630.4" cy="273.8" r="3.1" fill="#f4a272"/>
<circle cx="635.3" cy="274.1" r="2.6" fill="#f4a272"/>
<circle cx="638.2" cy="277.9" r="2.9" fill="#f4a272"/>
<circle cx="641.7" cy="276.8" r="3.1" fill="#f4a272"/>
<circle cx="643.4" cy="272.0" r="2.6" fill="#f4a272"/>
<circle cx="644.8" cy="267.6" r="2.9" fill="#f4a272"/>
<circle cx="649.1" cy="265.9" r="3.1" fill="#f4a272"/>
<circle cx="652.2" cy="269.3" r="2.6" fill="#f4a272"/>
<circle cx="654.1" cy="273.6" r="2.9" fill="#f4a272"/>
<circle cx="654.5" cy="278.3" r="3.1" fill="#f4a272"/>
<circle cx="652.8" cy="282.6" r="2.6" fill="#f4a272"/>
<circle cx="650.3" cy="286.4" r="2.9" fill="#f4a272"/>
<circle cx="647.3" cy="290.2" r="3.1" fill="#f4a272"/>
<circle cx="642.3" cy="290.1" r="2.6" fill="#f4a272"/>
<circle cx="637.7" cy="289.9" r="2.9" fill="#f4a272"/>
<circle cx="633.5" cy="291.4" r="3.1" fill="#f4a272"/>
<circle cx="629.8" cy="288.5" r="2.6" fill="#f4a272"/>
<circle cx="626.2" cy="285.3" r="2.9" fill="#f4a272"/>
<circle cx="624.1" cy="281.2" r="3.1" fill="#f4a272"/>
<circle cx="630" cy="283" r="3" fill="#f9b993" opacity="0.15"/>
<circle cx="640" cy="286" r="3.5" fill="#f9b993" opacity="0.15"/>
<circle cx="650" cy="276" r="3" fill="#f9b993" opacity="0.15"/>
<circle cx="648" cy="285" r="3" fill="#f9b993" opacity="0.15"/>
</g>
<g>
<path d="M635.8,294.3 C636.7,293.1 639,293 640.3,293.3 C641.7,293.5 642.3,295.1 643.7,295.8 C645.2,296.5 647.3,297 649.2,297.5 C651.1,298 653.6,298.1 655.1,298.8 C656.5,299.6 657.3,300.9 658,302.2 C658.6,303.6 659.2,305.5 659.1,306.8 C659,308.1 658.4,309.3 657.2,310.2 C656.1,311.1 653.6,311.5 652.2,312.2 C650.7,312.8 649.7,314.1 648.7,314.1 C647.7,314.1 646.8,312.7 646,312.2 C645.3,311.6 644.6,310.8 644,310.5 C643.5,310.3 643.2,310.1 642.7,310.8 C642.1,311.5 641.2,313.3 640.7,314.8 C640.1,316.3 640.1,318.8 639.3,320 C638.5,321.2 637.1,321.8 635.8,322 C634.5,322.3 632.7,322.4 631.7,321.7 C630.7,321 629.9,319.4 629.5,317.6 C629.1,315.9 629,312.9 629.2,311.3 C629.5,309.7 630.4,309.1 631.2,308 C632,306.9 633.6,306.1 634.2,304.8 C634.9,303.6 634.8,302.1 635,300.4 C635.3,298.6 634.9,295.5 635.8,294.3Z" fill="#e36f72"/>
<circle cx="635.8" cy="294.3" r="2.6" fill="#e36f72"/>
<circle cx="640.3" cy="293.3" r="2.9" fill="#e36f72"/>
<circle cx="644.1" cy="296.0" r="3.1" fill="#e36f72"/>
<circle cx="648.7" cy="297.4" r="2.6" fill="#e36f72"/>
<circle cx="653.3" cy="298.3" r="2.9" fill="#e36f72"/>
<circle cx="657.1" cy="300.8" r="3.1" fill="#e36f72"/>
<circle cx="659.0" cy="305.3" r="2.6" fill="#e36f72"/>
<circle cx="657.7" cy="309.8" r="2.9" fill="#e36f72"/>
<circle cx="653.1" cy="311.8" r="3.1" fill="#e36f72"/>
<circle cx="648.7" cy="314.1" r="2.6" fill="#e36f72"/>
<circle cx="644.8" cy="311.0" r="2.9" fill="#e36f72"/>
<circle cx="641.4" cy="313.1" r="3.1" fill="#e36f72"/>
<circle cx="640.1" cy="317.5" r="2.6" fill="#e36f72"/>
<circle cx="637.7" cy="321.4" r="2.9" fill="#e36f72"/>
<circle cx="633.1" cy="322.2" r="3.1" fill="#e36f72"/>
<circle cx="629.8" cy="318.8" r="2.6" fill="#e36f72"/>
<circle cx="629.1" cy="313.9" r="2.9" fill="#e36f72"/>
<circle cx="630.2" cy="309.2" r="3.1" fill="#e36f72"/>
<circle cx="633.6" cy="305.7" r="2.6" fill="#e36f72"/>
<circle cx="635.0" cy="301.0" r="2.9" fill="#e36f72"/>
<circle cx="635.2" cy="296.0" r="3.1" fill="#e36f72"/>
<circle cx="640" cy="300" r="3.5" fill="#ec8e90" opacity="0.15"/>
<circle cx="650" cy="303" r="3" fill="#ec8e90" opacity="0.15"/>
<circle cx="633" cy="315" r="3" fill="#ec8e90" opacity="0.15"/>
<circle cx="655" cy="307" r="2.5" fill="#ec8e90" opacity="0.15"/>
</g>
<circle cx="639.3" cy="274.2" r="4.5" fill="#fff"/>
<circle cx="638.8" cy="272.3" r="3.9" fill="#a51f24"/>
<circle cx="645.2" cy="314.3" r="4.5" fill="#fff"/>
<circle cx="644.5" cy="316.4" r="3.9" fill="#a51f24"/>
<text x="122.9" y="252.6" font-size="12" fill="#222" text-anchor="middle" font-weight="400" textLength="75.6" lengthAdjust="spacingAndGlyphs">SNase/RibBP</text>
<text x="35.1" y="292" font-size="12" fill="#222" text-anchor="middle" font-weight="400" textLength="29.6" lengthAdjust="spacingAndGlyphs">FKBP</text>
<text x="116.8" y="368.5" font-size="12" fill="#222" text-anchor="middle" font-weight="400" textLength="100.5" lengthAdjust="spacingAndGlyphs">Closed Monomer I</text>
<text x="283.3" y="368.5" font-size="12" fill="#222" text-anchor="middle" font-weight="400" textLength="103.8" lengthAdjust="spacingAndGlyphs">Closed Monomer II</text>
<text x="445.3" y="368.5" font-size="12" fill="#222" text-anchor="middle" font-weight="400" textLength="85.2" lengthAdjust="spacingAndGlyphs">Open Monomer</text>
<text x="660.6" y="368.5" font-size="12" fill="#222" text-anchor="middle" font-weight="400" textLength="86.5" lengthAdjust="spacingAndGlyphs">Swapped Dimer</text>
<rect x="38.3" y="392.8" width="152.5" height="100" fill="none" stroke="#333" stroke-width="1.3"/>
<line x1="38.8" y1="432.9" x2="190.3" y2="432.9" stroke="#777" stroke-width="1.3" stroke-dasharray="2.3 2.4"/>
<path d="M44.5,424.9 C45,425.5 46.3,427.2 47.2,428.5 C48.1,429.8 49.2,430.2 49.8,432.6 C50.4,435 50,439 50.6,442.7 C51.2,446.4 51.9,450.5 53.2,454.9 C54.5,459.3 56.4,465.1 58.3,469.1 C60.2,473.2 62.2,476.6 64.4,479.2 C66.6,481.8 69.1,483.9 71.5,484.7 C73.9,485.4 75.7,484.7 78.6,483.7 C81.5,482.7 85.3,479.7 88.7,478.6 C92.1,477.5 95.5,477.3 98.9,477.2 C102.3,477.1 106,477.7 109,477.8 C112,477.9 114.4,478.2 117.1,477.6 C119.8,477 122.5,476.1 125.2,474.2 C127.9,472.3 130.2,469.4 133.3,466 C136.4,462.6 139.4,457.4 143.5,453.9 C147.6,450.4 152.6,447.6 157.7,444.8 C162.8,442 168.5,439 173.9,437 C179.3,435 187.6,433.5 190.3,432.8" fill="none" stroke="#1e1e1e" stroke-width="1.4"/>
<text x="38.6" y="504.1" font-size="10.2" fill="#333" text-anchor="middle" font-weight="400">190</text>
<text x="108.4" y="504.1" font-size="10.2" fill="#333" text-anchor="middle" font-weight="400">220</text>
<text x="190.5" y="504.1" font-size="10.2" fill="#333" text-anchor="middle" font-weight="400">250</text>
<text x="32.5" y="436" font-size="10" fill="#333" text-anchor="middle" font-weight="400">0</text>
<text transform="translate(25.1,485.6) rotate(-90)" font-size="9.5" fill="#333" textLength="70.6" lengthAdjust="spacingAndGlyphs">CD signal (mdeg)</text>
<text x="114.1" y="518.9" font-size="12.5" fill="#222" text-anchor="middle" font-weight="400" textLength="92.7" lengthAdjust="spacingAndGlyphs">Wavelength (nm)</text>
<rect x="381.8" y="393" width="152.5" height="100" fill="none" stroke="#333" stroke-width="1.3"/>
<line x1="382.3" y1="432.5" x2="533.8" y2="432.5" stroke="#777" stroke-width="1.3" stroke-dasharray="2.3 2.4"/>
<path d="M395.8,436.5 C396.2,438.1 397.1,443.3 398,446.4 C398.9,449.5 400,452.2 401.3,455.1 C402.6,458 404.2,460.6 405.7,463.9 C407.2,467.2 408.7,472.1 410.1,474.8 C411.6,477.5 412.9,479.1 414.4,480.3 C415.8,481.5 417,482 418.8,481.8 C420.6,481.6 422.8,480.3 425.4,479.2 C428,478.1 430.9,476.3 434.2,475.3 C437.5,474.3 441.1,474.3 445.1,473.1 C449.1,471.9 452.8,470.9 458.3,468.3 C463.8,465.7 472.9,460.6 478,457.3 C483.1,454 484.9,451.2 488.9,448.5 C492.9,445.8 497.4,443.1 502.1,440.9 C506.9,438.6 512.1,436.4 517.4,435 C522.7,433.6 531.1,432.9 533.8,432.5" fill="none" stroke="#b0302f" stroke-width="1.4"/>
<text x="382.5" y="504.3" font-size="10.2" fill="#333" text-anchor="middle" font-weight="400">190</text>
<text x="451.9" y="504.3" font-size="10.2" fill="#333" text-anchor="middle" font-weight="400">220</text>
<text x="533.7" y="504.3" font-size="10.2" fill="#333" text-anchor="middle" font-weight="400">250</text>
<text x="376.2" y="436.6" font-size="10" fill="#333" text-anchor="middle" font-weight="400">0</text>
<text transform="translate(365.3,479.2) rotate(-90)" font-size="9.5" fill="#333" textLength="70.3" lengthAdjust="spacingAndGlyphs">CD signal (mdeg)</text>
<text x="455.7" y="518.8" font-size="12.5" fill="#222" text-anchor="middle" font-weight="400" textLength="93.1" lengthAdjust="spacingAndGlyphs">Wavelength (nm)</text>
<rect x="590.6" y="391.2" width="152.6" height="99.8" fill="none" stroke="#333" stroke-width="1.3"/>
<line x1="591.1" y1="432.1" x2="742.7" y2="432.1" stroke="#777" stroke-width="1.3" stroke-dasharray="2.3 2.4"/>
<path d="M605.6,405.6 C606,407.8 607.1,414.3 607.9,418.8 C608.7,423.3 609.5,427.3 610.6,432.6 C611.7,437.9 613.2,444.9 614.7,450.8 C616.2,456.7 617.4,463.6 619.3,468 C621.2,472.4 623.4,474.7 626.1,477.1 C628.8,479.5 632.2,481.1 635.3,482.4 C638.3,483.7 641.3,484.3 644.4,484.7 C647.5,485.1 650.9,484.7 653.6,484.7 C656.3,484.7 657.4,485.2 660.4,484.7 C663.4,484.2 668.4,483 671.8,481.7 C675.2,480.4 678,479.4 681,477.1 C684,474.8 686.7,472 690.1,468 C693.5,464 697.7,457.1 701.5,453.1 C705.3,449.1 708.8,446.7 713,444 C717.2,441.3 721.8,439 726.7,437.1 C731.7,435.2 740,433.2 742.7,432.4" fill="none" stroke="#5bb03a" stroke-width="1.4"/>
<text x="591.4" y="502.3" font-size="10.2" fill="#333" text-anchor="middle" font-weight="400">190</text>
<text x="661.4" y="502.3" font-size="10.2" fill="#333" text-anchor="middle" font-weight="400">220</text>
<text x="742.2" y="502.3" font-size="10.2" fill="#333" text-anchor="middle" font-weight="400">250</text>
<text x="585" y="435" font-size="10" fill="#333" text-anchor="middle" font-weight="400">0</text>
<text transform="translate(574.1,478.2) rotate(-90)" font-size="9.5" fill="#333" textLength="71.3" lengthAdjust="spacingAndGlyphs">CD signal (mdeg)</text>
<text x="659.9" y="518.8" font-size="12.5" fill="#222" text-anchor="middle" font-weight="400" textLength="92.1" lengthAdjust="spacingAndGlyphs">Wavelength (nm)</text>
</svg>
</body></html>
